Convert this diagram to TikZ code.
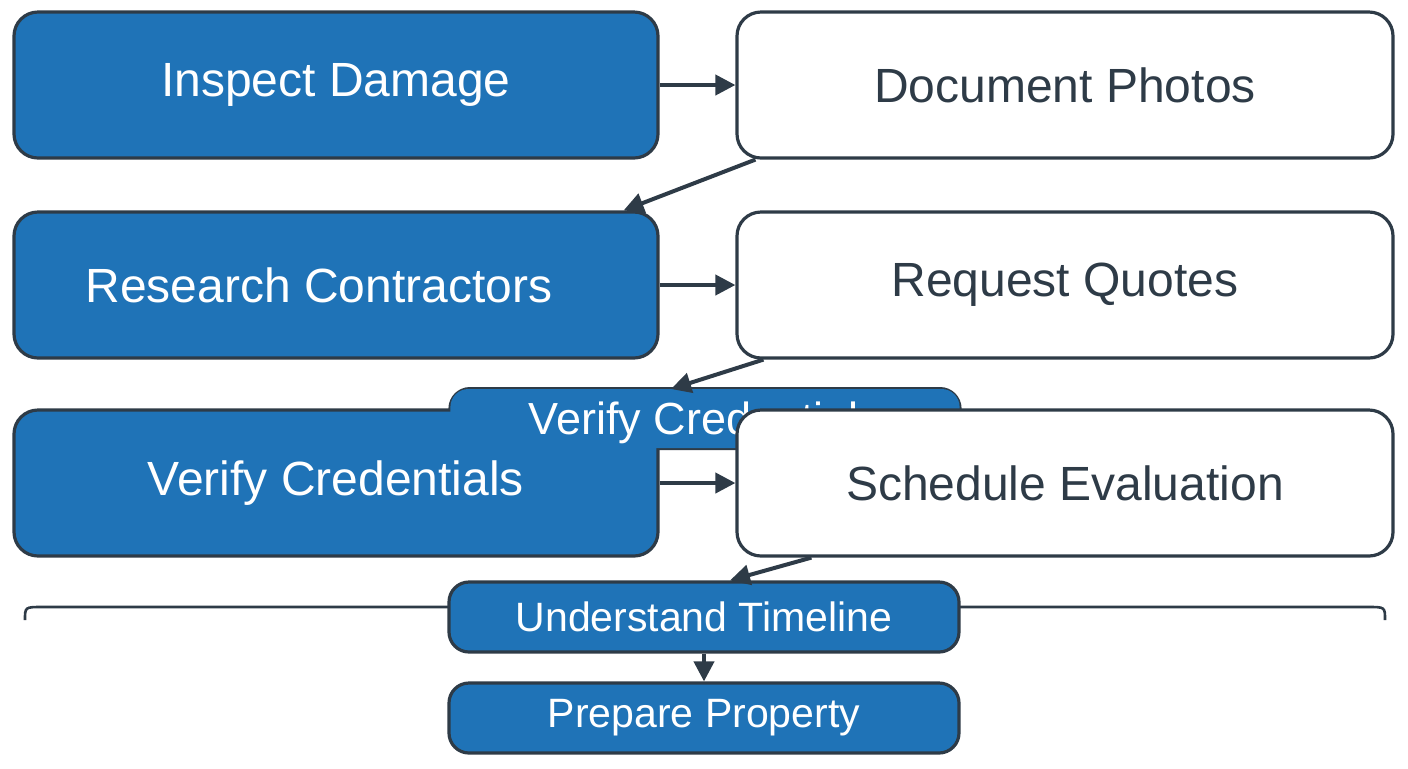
\documentclass[tikz,border=0pt]{standalone}
\usepackage{fontspec}
\setmainfont{Liberation Sans}
\usetikzlibrary{arrows.meta}
\definecolor{stepblue}{HTML}{1F73B7}
\definecolor{edge}{HTML}{2E3B47}
\tikzset{
  box/.style={draw=edge,line width=1.6pt,rounded corners=12pt,minimum width=322pt,minimum height=73pt,font=\fontsize{24}{28}\selectfont},
  blue box/.style={box,fill=stepblue,text=white},
  white box/.style={box,fill=white,text=edge,minimum width=328pt},
  small box/.style={blue box,minimum width=255pt,minimum height=35pt,rounded corners=10pt,font=\fontsize{20.5}{24}\selectfont},
  arr/.style={-{Triangle[length=10pt,width=10pt]},draw=edge,line width=2pt}
}
\begin{document}
\begin{tikzpicture}[x=0.5pt,y=-0.5pt]
\useasboundingbox (0,0) rectangle (1408,768);
% first row
\node[blue box] (insp) at (336,85) {Inspect Damage};
\node[white box] (doc) at (1065,85) {Document Photos};
% second row
\node[blue box] (res) at (336,285) {Research Contractors\kern17pt};
\node[white box] (quo) at (1065,285) {Request Quotes};
% third row, the small box merges into the left one
\node[small box,anchor=north,minimum height=30pt] (ver2) at (705,387) {};
\node[blue box] (ver) at (336,483) {Verify Credentials};
\fill[stepblue,rounded corners=9pt] ([shift={(2,2)}]ver2.north west) rectangle ([shift={(-2,-2)}]ver2.south east);
\node[font=\fontsize{22.5}{26}\selectfont,text=white] (ver2text) at (705,423) {Verify Credentials};
\node[white box] (sch) at (1065,483) {Schedule Evaluation};
% frame line
\draw[edge,line width=1.3pt] (25,620) .. controls (25,607) .. (42,607) -- (1368,607) .. controls (1385,607) .. (1385,620);
% last rows
\node[small box] (und) at (704,617) {Understand Timeline};
\node[small box] (pre) at (704,718) {Prepare Property};

\draw[arr] (insp.east) -- (doc.west);
\draw[arr] ([xshift=10]doc.south west) -- ([xshift=-18]res.north east);
\draw[arr] (res.east) -- (quo.west);
\draw[arr] ([xshift=14]quo.south west) -- ([xshift=-17,yshift=-1]ver2.north);
\draw[arr] (ver.east) -- (sch.west);
\draw[arr] ([xshift=38]sch.south west) -- ([xshift=13]und.north);
\draw[arr] (und.south) -- (pre.north);
\end{tikzpicture}
\end{document}
